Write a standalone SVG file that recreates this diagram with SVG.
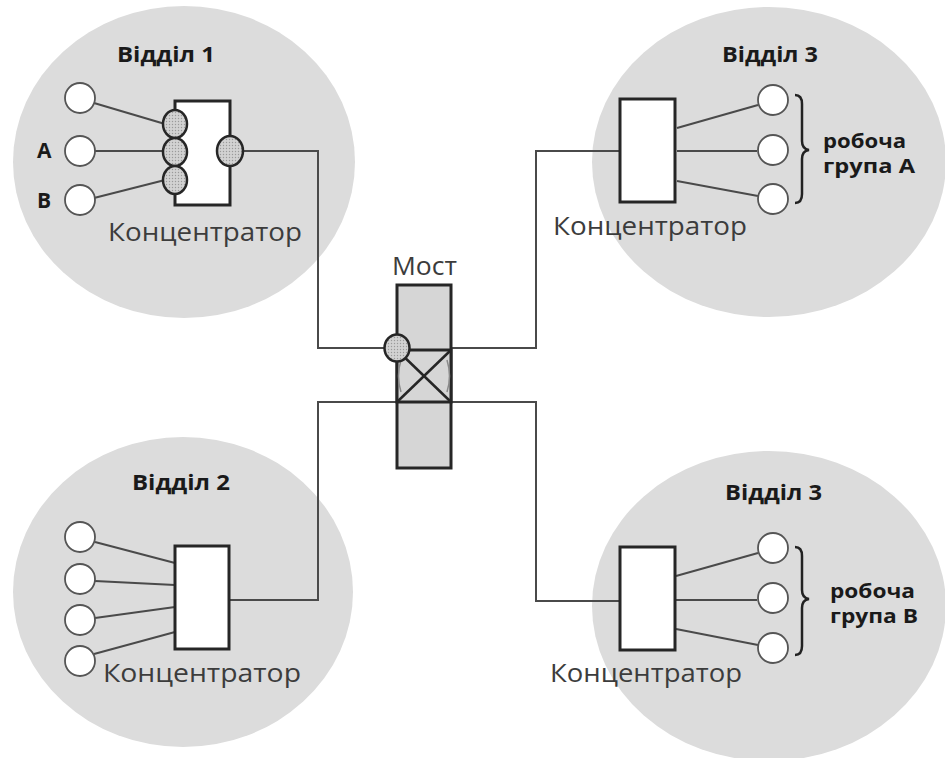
<svg xmlns="http://www.w3.org/2000/svg" width="945" height="758" viewBox="0 0 945 758">
  <defs>
    <pattern id="dots" width="3" height="3" patternUnits="userSpaceOnUse">
      <rect width="3" height="3" fill="#d2d2d2"/>
      <circle cx="1.5" cy="1.5" r="0.7" fill="#9a9a9a"/>
    </pattern>
    <style>
      .zone { fill: #dcdcdc; }
      .hub { fill: #ffffff; stroke: #262626; stroke-width: 3; }
      .ws { fill: #ffffff; stroke: #555555; stroke-width: 1.8; }
      .link { fill: none; stroke: #4a4a4a; stroke-width: 2; }
      .port { fill: url(#dots); stroke: #262626; stroke-width: 2.5; }
      .brace { fill: none; stroke: #222222; stroke-width: 2.5; }
      .title { font-family: "Open Sans", "DejaVu Sans", sans-serif; font-weight: bold; font-size: 21px; fill: #1a1a1a; }
      .label { font-family: "Open Sans", "DejaVu Sans", sans-serif; font-size: 25px; fill: #3c3c3c; }
      .grp { font-family: "Open Sans", "DejaVu Sans", sans-serif; font-weight: bold; font-size: 19px; fill: #1a1a1a; }
    </style>
  </defs>

  <rect width="945" height="758" fill="#ffffff"/>

  <!-- department zones -->
  <ellipse class="zone" cx="184" cy="162" rx="171" ry="156"/>
  <ellipse class="zone" cx="769" cy="162" rx="177" ry="155"/>
  <ellipse class="zone" cx="183" cy="592" rx="170" ry="155"/>
  <ellipse class="zone" cx="769" cy="606" rx="177" ry="155"/>

  <!-- backbone links between hubs and the bridge -->
  <g id="connectors">
    <polyline class="link" points="243,151 318,151 318,348 385,348"/>
    <polyline class="link" points="451,348 536,348 536,151 620,151"/>
    <polyline class="link" points="229,600 318,600 318,402 397,402"/>
    <polyline class="link" points="451,402 536,402 536,601 620,601"/>
  </g>

  <!-- Department 1 -->
  <g id="dept1">
    <text class="title" x="117" y="62" textLength="98" lengthAdjust="spacingAndGlyphs">Відділ 1</text>
    <line class="link" x1="94" y1="103" x2="165" y2="124"/>
    <line class="link" x1="95" y1="151" x2="164" y2="151"/>
    <line class="link" x1="94" y1="198" x2="165" y2="180"/>
    <circle class="ws" cx="80" cy="98" r="15"/>
    <circle class="ws" cx="80" cy="151" r="15"/>
    <circle class="ws" cx="80" cy="200" r="15"/>
    <text class="title" x="37" y="158" font-size="23">A</text>
    <text class="title" x="37" y="208" font-size="23">B</text>
    <rect class="hub" x="175" y="101" width="55" height="104"/>
    <ellipse class="port" cx="175" cy="124" rx="12" ry="14"/>
    <ellipse class="port" cx="175" cy="152" rx="12" ry="14"/>
    <ellipse class="port" cx="175" cy="180" rx="12" ry="14"/>
    <ellipse class="port" cx="230" cy="151" rx="13" ry="15"/>
    <text class="label" x="108" y="241" textLength="194" lengthAdjust="spacingAndGlyphs">Концентратор</text>
  </g>

  <!-- Department 3, work group A -->
  <g id="dept3a">
    <text class="title" x="722" y="62" textLength="96" lengthAdjust="spacingAndGlyphs">Відділ 3</text>
    <line class="link" x1="677" y1="128" x2="758" y2="105"/>
    <line class="link" x1="677" y1="151" x2="757" y2="151"/>
    <line class="link" x1="677" y1="181" x2="758" y2="196"/>
    <circle class="ws" cx="773" cy="100" r="15"/>
    <circle class="ws" cx="773" cy="150" r="15"/>
    <circle class="ws" cx="773" cy="199" r="15"/>
    <rect class="hub" x="620" y="99" width="55" height="103"/>
    <path class="brace" d="M795 95 Q802 95 802 104 L802 141 Q802 149 809 150 Q802 151 802 159 L802 194 Q802 203 795 203"/>
    <text class="grp" x="823" y="148" textLength="83" lengthAdjust="spacingAndGlyphs">робоча</text>
    <text class="grp" x="823" y="173" textLength="92" lengthAdjust="spacingAndGlyphs">група А</text>
    <text class="label" x="553" y="235" textLength="194" lengthAdjust="spacingAndGlyphs">Концентратор</text>
  </g>

  <!-- Bridge -->
  <g id="bridge">
    <text class="label" x="392" y="275" textLength="65" lengthAdjust="spacingAndGlyphs">Мост</text>
    <rect x="397" y="285" width="54" height="183" fill="#d6d6d6" stroke="#262626" stroke-width="3"/>
    <rect x="397" y="350" width="54" height="52" fill="#d6d6d6" stroke="#262626" stroke-width="3"/>
    <path d="M401 360 Q396 376 401 392 M447 360 Q452 376 447 392" fill="none" stroke="#8a8a8a" stroke-width="1.5"/>
    <line x1="397" y1="350" x2="451" y2="402" stroke="#262626" stroke-width="2.5"/>
    <line x1="451" y1="350" x2="397" y2="402" stroke="#262626" stroke-width="2.5"/>
    <ellipse class="port" cx="397" cy="348" rx="12.5" ry="13.5"/>
  </g>

  <!-- Department 2 -->
  <g id="dept2">
    <text class="title" x="132" y="490" textLength="98" lengthAdjust="spacingAndGlyphs">Відділ 2</text>
    <line class="link" x1="95" y1="542" x2="175" y2="563"/>
    <line class="link" x1="95" y1="581" x2="175" y2="585"/>
    <line class="link" x1="95" y1="618" x2="175" y2="607"/>
    <line class="link" x1="94" y1="654" x2="175" y2="632"/>
    <circle class="ws" cx="80" cy="537" r="15"/>
    <circle class="ws" cx="80" cy="579" r="15"/>
    <circle class="ws" cx="80" cy="620" r="15"/>
    <circle class="ws" cx="80" cy="661" r="15"/>
    <rect class="hub" x="175" y="546" width="54" height="103"/>
    <text class="label" x="103" y="682" textLength="198" lengthAdjust="spacingAndGlyphs">Концентратор</text>
  </g>

  <!-- Department 3, work group B -->
  <g id="dept3b">
    <text class="title" x="725" y="500" textLength="97" lengthAdjust="spacingAndGlyphs">Відділ 3</text>
    <line class="link" x1="676" y1="576" x2="758" y2="553"/>
    <line class="link" x1="676" y1="600" x2="757" y2="600"/>
    <line class="link" x1="676" y1="629" x2="758" y2="645"/>
    <circle class="ws" cx="773" cy="548" r="15"/>
    <circle class="ws" cx="773" cy="598" r="15"/>
    <circle class="ws" cx="773" cy="648" r="15"/>
    <rect class="hub" x="620" y="547" width="55" height="103"/>
    <path class="brace" d="M795 547 Q802 547 802 556 L802 590 Q802 598 809 599 Q802 600 802 608 L802 646 Q802 655 795 655"/>
    <text class="grp" x="830" y="598" textLength="85" lengthAdjust="spacingAndGlyphs">робоча</text>
    <text class="grp" x="830" y="623" textLength="88" lengthAdjust="spacingAndGlyphs">група В</text>
    <text class="label" x="550" y="682" textLength="192" lengthAdjust="spacingAndGlyphs">Концентратор</text>
  </g>
</svg>
